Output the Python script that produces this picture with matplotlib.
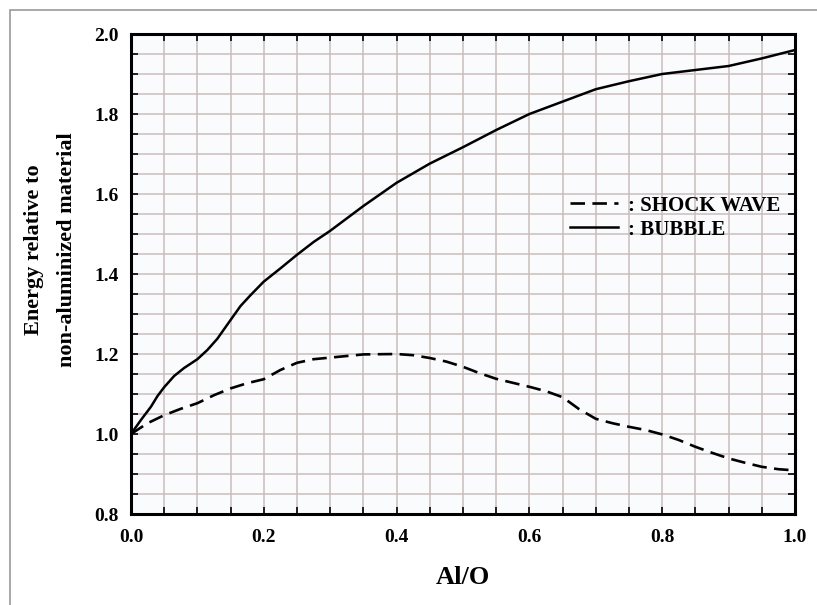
import matplotlib
matplotlib.use('Agg')
import matplotlib.pyplot as plt
from matplotlib.patches import Rectangle
from matplotlib.ticker import MultipleLocator

# values
shock_x = [0.0, 0.025, 0.05, 0.075, 0.10, 0.125, 0.15, 0.175, 0.20, 0.225, 0.25, 0.275,
           0.30, 0.35, 0.40, 0.425, 0.45, 0.475, 0.50, 0.525, 0.55, 0.575, 0.60, 0.625,
           0.65, 0.675, 0.70, 0.725, 0.75, 0.775, 0.80, 0.825, 0.85, 0.875, 0.90, 0.925,
           0.95, 0.975, 1.0]
shock_y = [1.0, 1.027, 1.047, 1.063, 1.077, 1.097, 1.114, 1.127, 1.137, 1.160, 1.178, 1.187,
           1.191, 1.199, 1.200, 1.197, 1.190, 1.181, 1.168, 1.152, 1.138, 1.128, 1.118, 1.107,
           1.092, 1.062, 1.038, 1.027, 1.018, 1.010, 0.999, 0.985, 0.968, 0.953, 0.939, 0.928,
           0.918, 0.912, 0.909]

bubble_x = [0.0, 0.015, 0.03, 0.04, 0.05, 0.065, 0.08, 0.10, 0.115, 0.13, 0.15, 0.165, 0.18,
            0.20, 0.225, 0.25, 0.275, 0.30, 0.35, 0.40, 0.45, 0.50, 0.55, 0.60, 0.65, 0.70,
            0.75, 0.80, 0.85, 0.90, 0.95, 1.0]
bubble_y = [1.0, 1.035, 1.068, 1.095, 1.117, 1.145, 1.165, 1.187, 1.21, 1.238, 1.285, 1.320,
            1.347, 1.381, 1.414, 1.448, 1.480, 1.508, 1.570, 1.628, 1.676, 1.717, 1.760, 1.800,
            1.831, 1.862, 1.882, 1.900, 1.910, 1.920, 1.939, 1.960]

series_labels = [': SHOCK WAVE', ': BUBBLE']

plt.rcParams['font.family'] = ['Liberation Serif', 'DejaVu Serif']
plt.rcParams['font.weight'] = 'bold'

fig = plt.figure(figsize=(8.17, 6.05), dpi=100)
fig.patch.set_facecolor('white')
ax = fig.add_axes([0.1603, 0.1504, 0.8128, 0.7934])
ax.set_facecolor('#f9fbfd')

# outer frame of the scanned figure
fig.patches.append(Rectangle((10 / 817, -0.1), 1.2, 1 - 10 / 605 + 0.1, transform=fig.transFigure,
                             fill=False, edgecolor='#9a9a9a', linewidth=1.2, clip_on=False))

ax.plot(shock_x, shock_y, color='black', linewidth=1.9, linestyle=(0, (5.5, 2.8)), label=series_labels[0])
ax.plot(bubble_x, bubble_y, color='black', linewidth=1.8, label=series_labels[1])

ax.set_xlim(0, 1.0)
ax.set_ylim(0.8, 2.0)
ax.xaxis.set_major_locator(MultipleLocator(0.2))
ax.xaxis.set_minor_locator(MultipleLocator(0.05))
ax.yaxis.set_major_locator(MultipleLocator(0.2))
ax.yaxis.set_minor_locator(MultipleLocator(0.05))
ax.xaxis.set_major_formatter(lambda v, p: f'{v:.1f}')
ax.yaxis.set_major_formatter(lambda v, p: f'{v:.1f}')

ax.grid(True, which='both', color='#cbbdbd', linewidth=1.1)
ax.set_axisbelow(True)
ax.tick_params(which='both', direction='in', length=5, width=1.2, top=True, right=True,
               labelsize=14)
ax.tick_params(axis='x', pad=11)
ax.tick_params(axis='y', pad=9)
for s in ax.spines.values():
    s.set_linewidth(2.2)

ax.set_xlabel('Al/O', fontsize=19, fontweight='bold')
ax.xaxis.set_label_coords(0.5, -0.133)
ax.xaxis.label.set_va('center')
ax.set_ylabel('Energy relative to\nnon-aluminized material', fontsize=16, fontweight='bold',
              linespacing=1.85, va='center')
ax.yaxis.set_label_coords(-0.121, 0.55)

ax.legend(loc='upper left', bbox_to_anchor=(0.645, 0.685), frameon=False, fontsize=15,
          handlelength=2.3, handletextpad=0.5, labelspacing=0.2, borderpad=0)

fig.savefig('out.png', dpi=100)
